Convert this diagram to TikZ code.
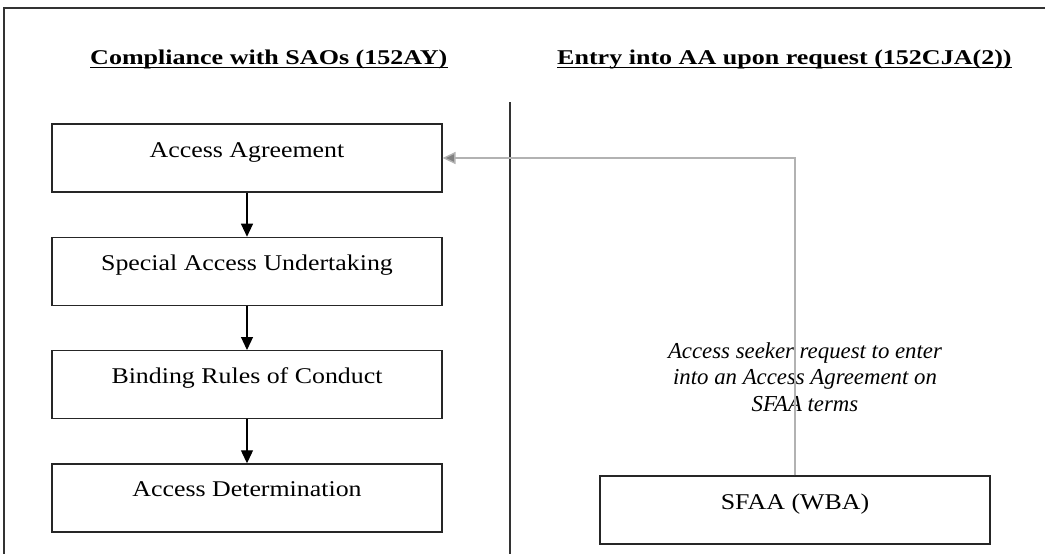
\documentclass[tikz,border=0pt]{standalone}
\usepackage{fontspec}
\setmainfont{Liberation Serif}
\newfontfamily\boxfont{Liberation Serif}[FakeStretch=1.15]
\newfontfamily\headfont{Liberation Serif}[FakeStretch=1.24]
\usetikzlibrary{arrows.meta, positioning}
\def\boxsep{113.3}

\begin{document}
\begin{tikzpicture}[x=1pt, y=1pt, >={Triangle[length=13pt,width=12pt]}]
    \tikzstyle{stage}=[rectangle, draw=black!85, line width=1.2pt, minimum width=390pt, minimum height=68pt,
        inner sep=0pt, text height=16pt, text depth=18pt, font=\boxfont\fontsize{22.5}{27}\selectfont]
    \tikzstyle{heading}=[inner sep=0pt, anchor=base west, font=\headfont\bfseries\fontsize{21}{25}\selectfont]
    \tikzstyle{note}=[inner sep=0pt, anchor=north, align=center, font=\itshape\fontsize{22.8}{26.5}\selectfont]
    \tikzstyle{flow}=[->, draw=black, line width=1.2pt]
    \tikzstyle{request}=[->, draw=black!30, line width=1.4pt]

    \useasboundingbox (0,0) rectangle (1045,-554);
    \clip (0,0) rectangle (1045,-554);

    % Outer frame
    \draw[black!80, line width=1.6pt] (4,-8) rectangle (1060,-570);

    % Column headings
    \node[heading] (h1) at (90,-64) {Compliance with SAOs (152AY)};
    \node[heading] (h2) at (557,-64) {Entry into AA upon request (152CJA(2))};
    \foreach \h in {h1,h2}
        \draw[line width=1.3pt] ([yshift=-3.5pt]\h.base west) -- ([yshift=-3.5pt]\h.base east);

    % Divider between the two columns
    \coordinate (div-top) at (510,-102);
    \coordinate (div-bot) at (510,-554);
    \draw[black!80, line width=1.2pt] (div-top) -- (div-bot);

    % Draw the SAO stages
    \foreach \name / \y / \txt in {AA/0/Access Agreement, SAU/1/Special Access Undertaking,
                                   BRC/2/Binding Rules of Conduct, AD/3/Access Determination}
        \node[stage] (\name) at (247,-158-\y*\boxsep) {\txt};

    % Connect the stages top to bottom
    \foreach \source / \dest in {AA/SAU, SAU/BRC, BRC/AD}
        \draw[flow] (\source) -- (\dest);

    % Right column
    \node[stage] (SFAA) at (795,-510) {SFAA (WBA)};
    \node[note] (req) at (805,-342) {Access seeker request to enter\\into an Access Agreement on\\SFAA terms};

    \draw[request, -{Triangle[length=13pt,width=12pt,fill=black!50]}] (SFAA.north) |- (AA.east);

\end{tikzpicture}
\end{document}
